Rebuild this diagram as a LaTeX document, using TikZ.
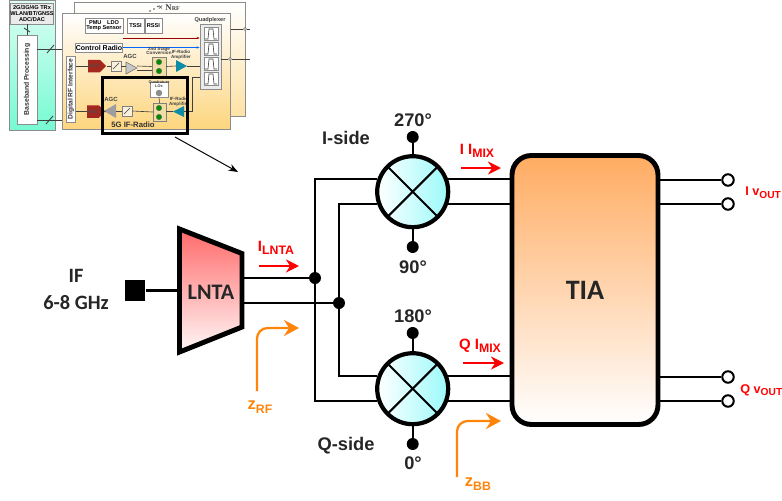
\documentclass[tikz,border=0pt]{standalone}
\usepackage{fontspec}
\setmainfont{Liberation Sans}
\newfontfamily\calfont{Carlito}
\newfontfamily\serfont{Liberation Serif}
\usepackage{xcolor}
\usetikzlibrary{positioning,arrows.meta,calc,shapes.symbols,shadows}
\definecolor{mixcyan}{RGB}{155,250,250}
\definecolor{tiaorange}{RGB}{255,172,98}
\definecolor{lntared}{RGB}{255,105,105}
\definecolor{impor}{RGB}{255,133,10}
\definecolor{panelor}{RGB}{253,213,125}
\definecolor{panelgr}{RGB}{118,250,210}
\definecolor{convred}{RGB}{165,40,30}
\definecolor{ampteal}{RGB}{15,140,165}
\definecolor{tanbox}{RGB}{240,220,165}
\newcommand{\subt}[1]{\raisebox{-.4ex}{\fontsize{7}{8}\selectfont #1}}
\newcommand{\subo}[1]{\raisebox{-.4ex}{\fontsize{5.8}{7}\selectfont #1}}
\newcommand{\fsz}[1]{\fontsize{#1}{#1}\selectfont}

\begin{document}
\begin{tikzpicture}[
  x=0.02cm, y=-0.02cm,
  font=\bfseries,
  softshadow/.style={drop shadow={opacity=.25, shadow xshift=.5pt, shadow yshift=-.5pt}},
  wire/.style={line width=1.15pt, black},
  mixer/.style={circle, draw=black, line width=2.4pt, minimum size=1.42cm, inner sep=0pt,
                left color=white, right color=mixcyan, softshadow,
                path picture={\draw[line width=1.15pt]
                  (path picture bounding box.north west) -- (path picture bounding box.south east)
                  (path picture bounding box.north east) -- (path picture bounding box.south west);}},
  junc/.style={circle, fill=black, minimum size=0.24cm, inner sep=0pt},
  term/.style={circle, draw=black, fill=white, line width=1.15pt, minimum size=0.23cm, inner sep=0pt},
  curr/.style={-{Stealth[length=2.6mm, width=2.6mm]}, line width=1.3pt, red},
  imped/.style={-{Stealth[length=3mm, width=3.2mm, inset=1mm]}, line width=1.3pt, impor, rounded corners=6pt},
  lab/.style={font=\fsz{10.4}\bfseries, text=black!85, inner sep=0pt},
  redlab/.style={font=\fsz{8.5}\bfseries, text=red, inner sep=0pt},
  outlab/.style={font=\fsz{7.2}\bfseries, text=red, inner sep=0pt, anchor=west},
  orlab/.style={font=\fsz{9.4}\bfseries, text=impor, inner sep=0pt},
  inwire/.style={line width=0.35pt, black!75},
  panel/.style={draw=black!45, line width=0.5pt, anchor=north west},
  wbox/.style={draw=black!45, fill=white, line width=0.4pt, inner sep=0pt, align=center, font=\fsz{3.2}\bfseries},
  mini/.style={inner sep=0pt, align=center, font=\fsz{2.6}\bfseries, text=black!75},
  conv/.style={signal, signal to=east, fill=convred, inner sep=0pt, minimum width=0.36cm, minimum height=0.25cm,
               text=black!70, font=\fsz{2.8}\bfseries},
  tan/.style={draw=black!50, fill=tanbox, line width=0.3pt, inner sep=0pt},
  grn/.style={circle, draw=black!60, fill=green!55!black, minimum size=0.11cm, inner sep=0pt, line width=0.2pt}
]
\useasboundingbox (0,0) rectangle (782,501);

% ----- inset: green baseband panel -----
\node[panel, top color=white!75!panelgr, bottom color=panelgr, minimum width=0.92cm, minimum height=2.6cm] (bbpanel) at (9,0) {};
\node[wbox, fill=white!92!black, minimum width=0.84cm, minimum height=0.42cm] (trx) at (32,13.5) {2G/3G/4G TRx\\WLAN/BT/GNSS\\ADC/DAC};
\node[wbox, minimum width=0.4cm, minimum height=1.78cm, font=\fsz{3.9}\bfseries] (bb) at (27,79.5) {};
\node[rotate=90, font=\fsz{3.9}\bfseries, text=black!80, inner sep=0pt] (bbtxt) at (bb.center) {Baseband Processing};
\draw[inwire, line width=0.5pt] (bb.north) -- (trx.south -| bb.north);
\draw[inwire, line width=0.5pt] (24,28) -- (30,32);

% ----- inset: RF panels -----
\node[panel, fill=white, top color=white, bottom color=panelor!70!white, minimum width=3.42cm, minimum height=2.28cm] (backp) at (74,2.3) {};
\node[panel, top color=white, bottom color=panelor, minimum width=3.36cm, minimum height=2.32cm] (frontp) at (62,13) {};
\foreach \px/\py in {150/11, 154/9, 158/6.5}{\fill[black!70] (\px,\py) circle (0.5pt);}
\node[inner sep=0pt, font=\serfont\fsz{5}\bfseries, text=black!75] (nrf) at (169,8) {× N{\fsz{3.4}RF}};
\coordinate (busA) at (bb.east |- 0,49);
\coordinate (busB) at (bb.east |- 0,120);
\draw[inwire, line width=0.55pt] (busA) -- (busA -| frontp.west);
\draw[inwire, line width=0.55pt] (busB) -- (busB -| frontp.west);
\draw[inwire, line width=0.5pt] (47,53) -- (54,45);
\draw[inwire, line width=0.5pt] (46,124) -- (53,116);

\node[wbox, minimum width=0.76cm, minimum height=0.3cm] (pmu) at (104,25.5) {PMU\quad LDO\\Temp Sensor};
\node[wbox, minimum width=0.34cm, minimum height=0.3cm] (tssi) at (135.5,25.5) {TSSI};
\node[wbox, minimum width=0.34cm, minimum height=0.3cm] (rssi) at (153.5,25.5) {RSSI};
\node[wbox, minimum width=0.92cm, minimum height=0.18cm, font=\fsz{4}\bfseries] (ctrl) at (99,47.5) {Control Radio};
\node[wbox, minimum width=0.18cm, minimum height=1.32cm] (rfif) at (71,89) {};
\node[rotate=90, font=\fsz{3.8}\bfseries, text=black!80, inner sep=0pt] (rfiftxt) at (rfif.center) {Digital RF Interface};

% ----- inset: quadplexer -----
\node[mini, font=\fsz{3.2}\bfseries] (quadtxt) at (210,20) {Quadplexer};
\node[wbox, fill=black!8, minimum width=0.42cm, minimum height=1.3cm] (quad) at (210.5,56.5) {};
\foreach \i/\qy in {1/34, 2/49, 3/64, 4/79}{
  \node[wbox, minimum width=0.28cm, minimum height=0.27cm] (qc\i) at (211,\qy) {};
  \draw[inwire] (205,\qy+5) -- (208,\qy+5) -- (209,\qy-5) -- (213,\qy-5) -- (214,\qy+5) -- (217,\qy+5);
}
\coordinate (redin) at (ctrl.east |- 0,38);
\draw[line width=0.35pt, red!60!black, -{Stealth[length=0.6mm]}] (redin) -- (redin -| quad.west);
\draw[line width=0.35pt, blue!60!cyan, -{Stealth[length=0.6mm]}] (ctrl.east) -- (ctrl.east -| quad.west);
\node[circle, draw=black!60, fill=white, minimum size=0.06cm, inner sep=0pt, line width=0.25pt] (antb) at (245,29) {};
\node[circle, draw=black!60, fill=white, minimum size=0.06cm, inner sep=0pt, line width=0.25pt] (antf) at (230,59) {};
\coordinate (antbR) at (250,29);
\coordinate (antfR) at (250,59);
\draw[inwire] (frontp.east |- antb) -- (antb) -- (antbR);
\draw[inwire] (quad.east |- antf) -- (antf) -- (antfR);

% ----- inset: transmit chain -----
\node[conv] (dac) at (94,66) {DAC};
\node[tan, fill=white!60!tanbox, minimum width=0.2cm, minimum height=0.2cm] (txflt) at (116,66) {};
\draw[inwire] (113,69) -- (119,63);
\fill[black!22] (126,62) -- (137,68) -- (126,74) -- cycle;
\draw[black!55, line width=0.3pt] (126,62) -- (137,68) -- (126,74) -- cycle;
\coordinate (txagc) at (126,66);
\node[tan, minimum width=0.28cm, minimum height=0.38cm] (txmix) at (159,66.5) {};
\node[grn] (txg1) at (159,62) {};
\node[grn] (txg2) at (159,71) {};
\fill[ampteal] (176,60) -- (187,66) -- (176,72) -- cycle;
\coordinate (txamp) at (176,66);
\coordinate (txampR) at (187,66);
\draw[inwire] (rfif.east |- dac) -- (dac.west);
\draw[inwire] (dac.east) -- (txflt.west);
\draw[inwire] (txflt.east) -- (txagc);
\draw[inwire] (137,66) -- (txmix.west);
\draw[inwire] (137,70) -- (152,70);
\draw[inwire] (txmix.east) -- (txamp);
\draw[inwire] (txampR) -- (txampR -| quad.west);
\node[mini, font=\fsz{3.4}\bfseries] (txagct) at (130,56) {AGC};
\node[mini] (stage) at (159,51) {2nd Stage\\Conversion};
\node[mini] (txampt) at (181,55) {IF-Radio\\Amplifier};

% ----- inset: 5G receive chain -----
\node[conv] (adc) at (93,111.5) {ADC};
\fill[black!38] (104,111) -- (116,104) -- (116,118) -- cycle;
\coordinate (rxagc) at (116,111);
\node[tan, fill=white!60!tanbox, minimum width=0.2cm, minimum height=0.2cm] (rxflt) at (127,111) {};
\draw[inwire] (124,114) -- (130,108);
\node[tan, minimum width=0.26cm, minimum height=0.36cm] (rxmix) at (159.5,112) {};
\node[grn] (rxg1) at (159,108) {};
\node[grn] (rxg2) at (159,117) {};
\node[wbox, minimum width=0.36cm, minimum height=0.3cm] (lobox) at (159,89.5) {};
\node[mini, font=\fsz{2.2}\bfseries] (lotxt) at (159,84.5) {Quadrature\\LOs};
\node[circle, fill=black!45, minimum size=0.13cm, inner sep=0pt] (lodot) at (159,93) {};
\fill[ampteal] (173,111.5) -- (184,106) -- (184,117) -- cycle;
\coordinate (rxamp) at (184,111.5);
\coordinate (rxampL) at (173,111.5);
\coordinate (rxup) at (192,111.5);
\coordinate (rxtop) at (192,77);
\draw[inwire] (rfif.east |- adc) -- (adc.west);
\draw[inwire] (adc.east) -- (104,111);
\draw[inwire] (rxagc) -- (rxflt.west);
\draw[inwire] (rxflt.east) -- (rxmix.west);
\draw[inwire] (rxampL) -- (rxmix.east |- rxampL);
\draw[inwire] (rxamp) -- (rxup) -- (rxtop) -- (rxtop -| quad.west);
\draw[inwire] (lobox.south) -- (rxmix.north);
\node[mini, font=\fsz{3.4}\bfseries] (rxagct) at (111,99) {AGC};
\node[mini] (rxampt) at (179,102) {IF-Radio\\Amplifier};
\node[draw=black, line width=1.6pt, minimum width=1.71cm, minimum height=1.13cm] (rxbox) at (145,105.5) {};
\node[mini, font=\fsz{4.4}\bfseries, text=black!80] (fiveg) at (133,125) {5G IF-Radio};

% ----- zoom arrow -----
\coordinate (zoomA) at (175,137);
\coordinate (zoomB) at (238,172);
\draw[line width=0.55pt, -{Stealth[length=1.9mm]}] (zoomA) -- (zoomB);

% ----- input and LNTA -----
\node[lab, font=\calfont\fsz{11.6}\bfseries, align=center] (iftxt) at (76,289.5) {IF\\[4pt]6-8 GHz};
\node[fill=black, minimum size=0.41cm, inner sep=0pt] (port) at (135,290.5) {};
\draw[softshadow, line width=2.8pt, line join=miter, top color=lntared, bottom color=white!95!lntared]
  (179.5,229) coordinate (lntaTL) -- (242,253.5) coordinate (lntaTR)
  -- (242,327) coordinate (lntaBR) -- (179.5,352) coordinate (lntaBL) -- cycle;
\node[lab, font=\calfont\fsz{12.6}\bfseries] (lnta) at (211,292) {LNTA};
\node[junc] (jA) at (315,278) {};
\node[junc] (jB) at (339,303) {};
\draw[wire] (port.east) -- (port.east -| lntaTL);
\draw[wire] (lntaTR |- jA) -- (jA);
\draw[wire] (lntaTR |- jB) -- (jB);

% ----- mixers, TIA, outputs -----
\node[mixer] (mixI) at (412.7,191.7) {};
\node[mixer] (mixQ) at (412.7,388.7) {};
\node[draw=black, line width=2.8pt, rounded corners=11pt, minimum width=2.92cm, minimum height=5.38cm, softshadow,
      top color=tiaorange, bottom color=white, font=\calfont\fsz{16}\bfseries, text=black!85] (tia) at (585,290) {TIA};
\foreach \n/\oy in {outIa/180, outIb/204, outQa/377, outQb/401}{
  \node[term] (\n) at (728,\oy) {};
  \draw[wire] (tia.east |- \n) -- (\n);
}
% ----- mixer ports and LO dots -----
\foreach \m in {mixI, mixQ}{
  \draw[wire] (\m.19) -- (\m.19 -| tia.west);
  \draw[wire] (\m.-19) -- (\m.-19 -| tia.west);
}
\draw[wire] (jA) -- (jA |- mixI.161) -- (mixI.161);
\draw[wire] (jB) -- (jB |- mixI.199) -- (mixI.199);
\draw[wire] (jA) -- (jA |- mixQ.199) -- (mixQ.199);
\draw[wire] (jB) -- (jB |- mixQ.161) -- (mixQ.161);
\foreach \n/\oy/\m/\a in {loA/137/mixI/north, loB/247/mixI/south, loC/333/mixQ/north, loD/444/mixQ/south}{
  \node[junc] (\n) at (412.7,\oy) {};
  \draw[wire] (\n) -- (\m.\a);
}
\node[lab] (lo270) at (413,120) {270°};
\node[lab] (lo90)  at (413,267) {90°};
\node[lab] (lo180) at (413,316) {180°};
\node[lab] (lo0)   at (413,463) {0°};
\node[lab] (iside) at (346,138) {I-side};
\node[lab] (qside) at (346,446) {Q-side};

% ----- current and impedance marks -----
\foreach \n/\xa/\xb/\yy in {cL/259/299/266, cI/461/501/168, cQ/463/504/363}{
  \coordinate (\n s) at (\xa,\yy);
  \coordinate (\n e) at (\xb,\yy);
  \draw[curr] (\n s) -- (\n e);
}
\node[redlab] (ilnta) at (276,248) {I\subt{LNTA}};
\node[redlab] (iimix) at (477,151) {I I\subt{MIX}};
\node[redlab] (qimix) at (480,346) {Q I\subt{MIX}};
\node[outlab] (ivout) at (745,193) {I v\subo{OUT}};
\node[outlab] (qvout) at (740,390) {Q v\subo{OUT}};
\coordinate (zrfS) at (257,391);
\coordinate (zrfE) at (299,328);
\coordinate (zbbS) at (457,477);
\coordinate (zbbE) at (501,421);
\draw[imped] (zrfS) |- (zrfE);
\draw[imped] (zbbS) |- (zbbE);
\node[orlab] (zrf) at (260,407) {z\subt{RF}};
\node[orlab] (zbb) at (478,484) {z\subt{BB}};
\end{tikzpicture}
\end{document}
